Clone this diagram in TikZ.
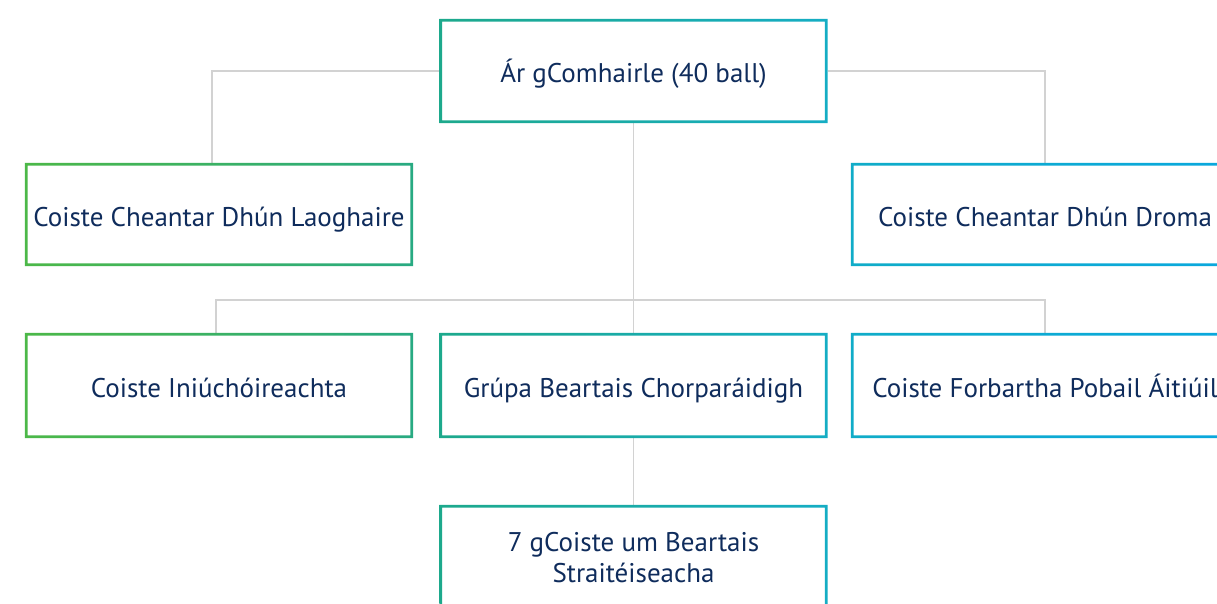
\documentclass[tikz,border=0pt]{standalone}
\usepackage{fontspec}
\setmainfont{PT Sans}
\definecolor{navy}{HTML}{0F2C5C}
\definecolor{linegray}{HTML}{D2D2D2}
\definecolor{gA}{HTML}{4CB848}
\definecolor{gB}{HTML}{28AA82}
\definecolor{gC}{HTML}{1DA98C}
\definecolor{gD}{HTML}{15ADC4}
\definecolor{gE}{HTML}{10ACC8}
\definecolor{gF}{HTML}{0AA8DE}
\tikzset{
  box/.style={minimum width=388pt, minimum height=104pt, inner sep=0pt, align=center, text=navy, font=\fontsize{27}{31}\selectfont},
  one/.style={text height=28pt, text depth=4pt},
  link/.style={draw=linegray, line width=1.1pt}
}
\newcommand\gframe[3]{\shade[left color=#2, right color=#3, even odd rule] (#1.south west) rectangle (#1.north east) ([shift={(2.8pt,2.8pt)}]#1.south west) rectangle ([shift={(-2.8pt,-2.8pt)}]#1.north east);}
\begin{document}
\begin{tikzpicture}[x=1pt,y=-1pt]
\useasboundingbox (0,0) rectangle (1217,604);
\clip (0,0) rectangle (1217,604);
\fill[white] (0,0) rectangle (1217,604);
\node[box, one] (top) at (633.5,71) {Ár gComhairle (40 ball)};
\node[box, one, minimum height=103pt] (l2) at (219,214.5) {Coiste Cheantar Dhún Laoghaire};
\node[box, one, minimum height=103pt] (r2) at (1045,214.5) {Coiste Cheantar Dhún Droma};
\node[box, one, minimum height=105pt] (l3) at (219,385.5) {Coiste Iniúchóireachta};
\node[box, one, minimum height=105pt] (m3) at (633.5,385.5) {Grúpa Beartais Chorparáidigh};
\node[box, one, minimum height=105pt] (r3) at (1045,385.5) {Coiste Forbartha Pobail Áitiúil};
\node[box, minimum height=105pt] (b4) at (633.5,557.5) {7 gCoiste um Beartais\\Straitéiseacha};
\coordinate (bar) at (633.5,300);
\draw[link] (top.west) -| ([xshift=-7pt]l2.north);
\draw[link] (top.east) -| (r2.north);
\draw[link] (top.south) -- (m3.north);
\draw[link] ([xshift=-3pt]l3.north) |- (bar) -| (r3.north);
\draw[link] (m3.south) -- (b4.north);
\gframe{top}{gC}{gD}
\gframe{l2}{gA}{gB}
\gframe{r2}{gE}{gF}
\gframe{l3}{gA}{gB}
\gframe{m3}{gC}{gD}
\gframe{r3}{gE}{gF}
\gframe{b4}{gC}{gD}
\end{tikzpicture}
\end{document}
